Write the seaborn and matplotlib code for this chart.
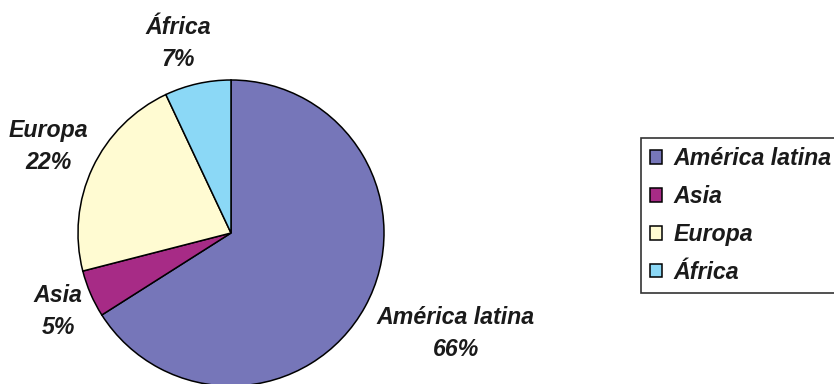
import numpy as np
import matplotlib
matplotlib.use("Agg")
import matplotlib.pyplot as plt
import seaborn as sns

# Share of the total by region
regions = ["América latina", "Asia", "Europa", "África"]
shares = [66, 5, 22, 7]
colors = ["#7676B9", "#A72B86", "#FFFBD2", "#8BD8F6"]

# label placement: radial distance (in radii) and angular nudge (degrees)
label_dist = [1.61, 1.24, 1.32, 1.285]
label_shift = [4.6, 0.9, -0.2, 3.0]

sns.set_theme(style="white")
plt.rcParams["font.family"] = ["Liberation Sans", "DejaVu Sans"]

W, H, DPI = 834, 384, 100
fig = plt.figure(figsize=(W / DPI, H / DPI), dpi=DPI)
ax = fig.add_axes([0, 0, 1, 1])

cx, cy, r = 231, 233, 153  # pie centre and radius in pixels

wedges, _ = ax.pie(shares, colors=colors, startangle=90, counterclock=False,
                   radius=1.0, center=(0, 0),
                   wedgeprops=dict(edgecolor="black", linewidth=1.1))
ax.set_xlim(-cx / r, (W - cx) / r)
ax.set_ylim(-(H - cy) / r, cy / r)
ax.set_aspect("auto")
ax.axis("off")

fs = 16.7
for w, name, val, d, s in zip(wedges, regions, shares, label_dist, label_shift):
    mid = np.deg2rad((w.theta1 + w.theta2) / 2 + s)
    ax.text(d * np.cos(mid), d * np.sin(mid), f"{name}\n{val}%",
            ha="center", va="center", fontsize=fs, fontweight="bold",
            fontstyle="italic", color="#1a1a1a", linespacing=1.5)

leg = fig.legend(wedges, regions, loc="upper left",
                 bbox_to_anchor=(641 / W, 1 - 138 / H),
                 prop=dict(size=fs, weight="bold", style="italic"),
                 frameon=True, fancybox=False, edgecolor="black",
                 handlelength=0.52, handleheight=0.52, handletextpad=0.5,
                 labelspacing=0.64, borderpad=0.4, borderaxespad=0)
leg.get_frame().set_linewidth(1.2)
for t in leg.get_texts():
    t.set_color("#1a1a1a")

fig.savefig("out.png", dpi=DPI)
